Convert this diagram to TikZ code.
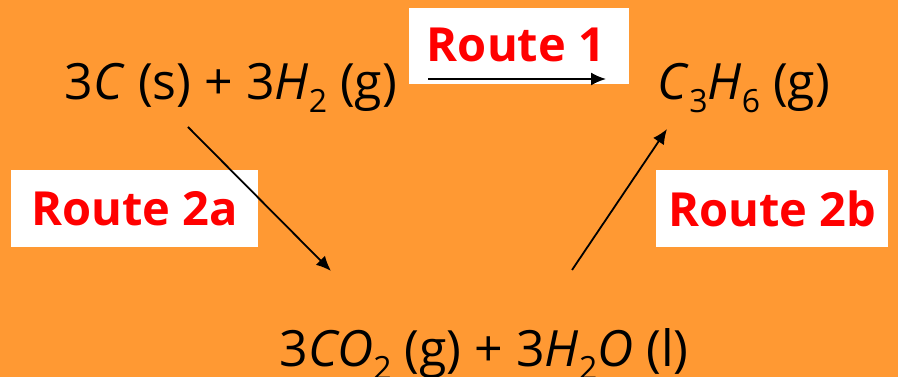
\documentclass[tikz,border=0pt]{standalone}
\usepackage{fontspec}
\setmainfont{Open Sans}
\usetikzlibrary{arrows.meta}
\definecolor{bgorange}{HTML}{FF9933}
\definecolor{routered}{HTML}{FF0000}
\tikzset{
  chem/.style={font=\fontsize{50}{54}\selectfont, text=black, inner sep=0pt, anchor=base},
  routebox/.style={fill=white, draw=none, inner sep=0pt, text=routered,
    font=\fontsize{47}{50}\selectfont\bfseries},
  rxn/.style={draw=black, line width=1.8pt, -{Latex[length=15pt,width=13pt]}}
}
\newcommand{\sbs}[1]{\raisebox{-0.25em}{\fontsize{32}{34}\selectfont #1}}
\begin{document}
\begin{tikzpicture}[x=1pt,y=1pt]
\fill[bgorange] (0,0) rectangle (898,377);
\useasboundingbox (0,0) rectangle (898,377);
% species
\node[chem] (reac) at (231,277) {3\textit{C} (s) + 3\textit{H}\sbs{2} (g)};
\node[chem] (prod) at (744,277) {\textit{C}\sbs{3}\textit{H}\sbs{6} (g)};
\node[chem] (inter) at (484,10) {3\textit{CO}\sbs{2} (g) + 3\textit{H}\sbs{2}\textit{O} (l)};
% route labels
\node[routebox, minimum width=220pt, minimum height=76pt, anchor=north west] (r1box) at (409,369) {};
\node[text=routered, font=\fontsize{47}{50}\selectfont\bfseries, anchor=base, inner sep=0pt] (r1) at (516,315) {Route 1};
\node[routebox, minimum width=247pt, minimum height=77pt] (r2a) at (134.5,168.5) {Route 2a};
\node[routebox, minimum width=232pt, minimum height=77pt] (r2b) at (772,168.5) {Route 2b};
% arrows
\coordinate (r1s) at (428,298);
\coordinate (r1e) at (606,298);
\coordinate (a2s) at (188,250);
\coordinate (a2e) at (331,106);
\coordinate (b2s) at (572,107);
\coordinate (b2e) at (667,248);
\draw[rxn] (r1s) -- (r1e);
\draw[rxn] (a2s) -- (a2e);
\draw[rxn] (b2s) -- (b2e);
\end{tikzpicture}
\end{document}
